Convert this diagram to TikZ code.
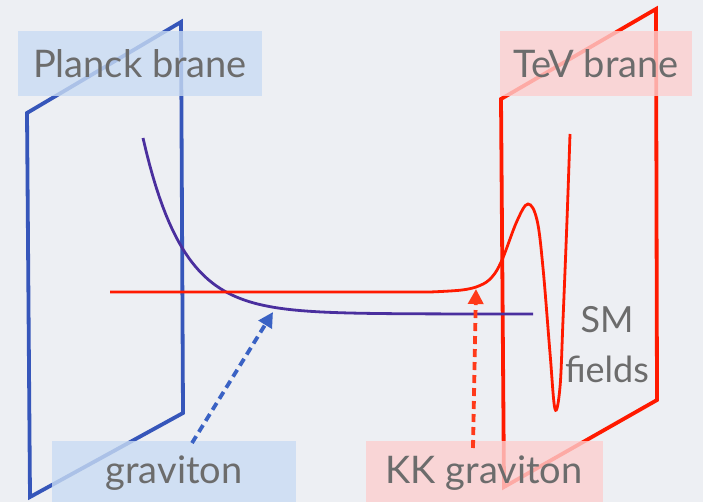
\documentclass[tikz,border=0pt]{standalone}
\usepackage{fontspec}
\setmainfont{Lato}
\usetikzlibrary{arrows.meta}
\definecolor{bgcol}{HTML}{EDEFF3}
\definecolor{planckblue}{HTML}{3656BA}
\definecolor{tevred}{HTML}{FF1A00}
\definecolor{gravpurple}{HTML}{4A2F9E}
\definecolor{arrblue}{HTML}{3A62C4}
\definecolor{arrred}{HTML}{FF3A1A}
\definecolor{boxblue}{HTML}{C9DCF3}
\definecolor{boxred}{HTML}{FDCFCF}
\definecolor{labelgray}{HTML}{6C6C6C}

\begin{document}
\begin{tikzpicture}[x=1pt, y=-1pt,
  brane/.style={line width=3.8pt, line join=miter},
  wave/.style={line width=2.8pt},
  lbl/.style={fill opacity=0.8, text opacity=1, text=labelgray, inner sep=0pt,
    minimum height=65pt, font=\fontsize{38}{44}\selectfont},
  arr/.style={line width=3.8pt, dash pattern=on 8pt off 5pt,
    -{Triangle[length=15pt,width=15pt]}},
]
  \fill[bgcol] (0,0) rectangle (703,502);
  \useasboundingbox (0,0) rectangle (703,502);
  \clip (0,0) rectangle (703,502);

  % branes
  \draw[brane, planckblue] (27,113) -- (181,22) -- (183,413) -- (30,497) -- cycle;
  \draw[brane, tevred] (501,99) -- (656,9) -- (657,400) -- (504,487) -- cycle;

  % wave functions
  \draw[wave, gravpurple] plot[domain=143:533, samples=120]
    (\x, {314-176*exp(-(\x-143)/40)});
  \draw[wave, tevred] (110,292) -- (430,292)
    plot[smooth, tension=0.6] coordinates {(430,292) (462,290) (480,285.5) (492,277)
      (502,260) (517,221) (528,204) (537,220) (543,268) (550,353) (555,409)
      (560,387) (563,320) (567,220) (570,134)};

  % labels
  \node[lbl, fill=boxblue, minimum width=244pt] (planck) at (140,64) {Planck brane};
  \node[lbl, fill=boxred, minimum width=192pt] (tev) at (596,64) {TeV brane};
  \node[lbl, fill=boxblue, minimum width=244pt] (grav) at (174,473) {graviton};
  \node[lbl, fill=boxred, minimum width=237pt] (kkgrav) at (484,473) {KK graviton};
  \node[text=labelgray, align=center, font=\fontsize{36}{50}\selectfont] (sm) at (607,345) {SM\\fields};

  \coordinate (gtail) at (192,443);
  \coordinate (gtip) at (273,312);
  \coordinate (kktail) at (473,448);
  \coordinate (kktip) at (476,289);

  \draw[arr, arrblue] (gtail) -- (gtip);
  \draw[arr, arrred] (kktail) -- (kktip);
\end{tikzpicture}
\end{document}
